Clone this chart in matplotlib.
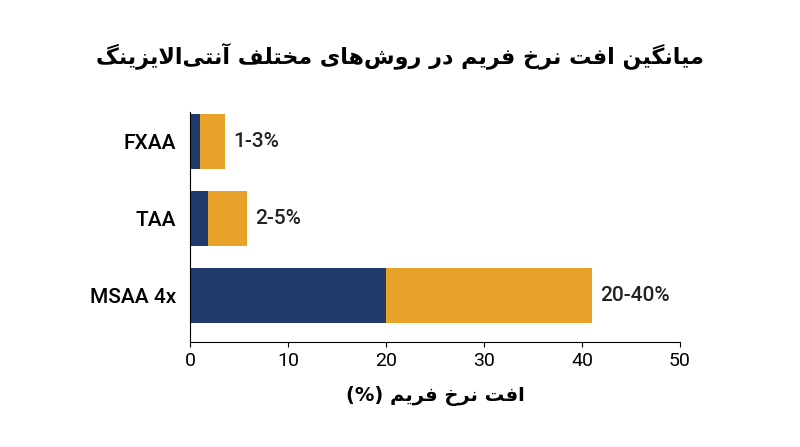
import matplotlib
matplotlib.use("Agg")
import matplotlib.pyplot as plt

# ---------------------------------------------------------------------------
# DATA
# ---------------------------------------------------------------------------
methods = ["MSAA 4x", "TAA", "FXAA"]
low_values = [20.0, 1.8, 1.0]      # lower bound part (navy)
extra_values = [21.0, 4.0, 2.6]    # range part (orange)
range_labels = ["20-40%", "2-5%", "1-3%"]

TITLE = "میانگین افت نرخ فریم در روش‌های مختلف آنتی‌الایزینگ"
XLABEL = "افت نرخ فریم (%)"

COLOR_LOW = "#1f3a6b"
COLOR_HIGH = "#e8a22a"

# ---------------------------------------------------------------------------
# Minimal Persian shaping (matplotlib has no bidi / joining support)
# forms: isolated, final, initial, medial
# ---------------------------------------------------------------------------
FORMS = {
    "ا": (0xFE8D, 0xFE8E, None, None),
    "آ": (0xFE81, 0xFE82, None, None),
    "ت": (0xFE95, 0xFE96, 0xFE97, 0xFE98),
    "خ": (0xFEA5, 0xFEA6, 0xFEA7, 0xFEA8),
    "د": (0xFEA9, 0xFEAA, None, None),
    "ر": (0xFEAD, 0xFEAE, None, None),
    "ز": (0xFEAF, 0xFEB0, None, None),
    "ش": (0xFEB5, 0xFEB6, 0xFEB7, 0xFEB8),
    "ف": (0xFED1, 0xFED2, 0xFED3, 0xFED4),
    "ل": (0xFEDD, 0xFEDE, 0xFEDF, 0xFEE0),
    "م": (0xFEE1, 0xFEE2, 0xFEE3, 0xFEE4),
    "ن": (0xFEE5, 0xFEE6, 0xFEE7, 0xFEE8),
    "ه": (0xFEE9, 0xFEEA, 0xFEEB, 0xFEEC),
    "و": (0xFEED, 0xFEEE, None, None),
    "ی": (0xFBFC, 0xFBFD, 0xFBFE, 0xFBFF),
    "گ": (0xFB92, 0xFB93, 0xFB94, 0xFB95),
}
MIRROR = {"(": ")", ")": "("}


def shape_fa(text):
    chars = list(text)
    out = []
    i = 0
    prev_joins = False
    while i < len(chars):
        c = chars[i]
        if c == "\u200c":
            # zero-width non-joiner: break the join, draw nothing
            prev_joins = False
            i += 1
            continue
        if c not in FORMS:
            out.append(c)
            prev_joins = False
            i += 1
            continue
        # lam-alef ligature
        if c == "ل" and i + 1 < len(chars) and chars[i + 1] == "ا":
            out.append(chr(0xFEFC if prev_joins else 0xFEFB))
            prev_joins = False
            i += 2
            continue
        nxt = chars[i + 1] if i + 1 < len(chars) else None
        can_next = FORMS[c][2] is not None and nxt in FORMS
        iso, fin, ini, med = FORMS[c]
        if prev_joins and can_next:
            form = med
        elif prev_joins:
            form = fin
        elif can_next:
            form = ini
        else:
            form = iso
        out.append(chr(form))
        prev_joins = can_next
        i += 1
    return "".join(MIRROR.get(ch, ch) for ch in reversed(out))


plt.rcParams["font.family"] = ["Roboto", "DejaVu Sans"]

fig = plt.figure(figsize=(8, 4.47), dpi=100)
ax = fig.add_axes([0.2375, 0.235, 0.6125, 0.515])

ypos = list(range(len(methods)))
ax.barh(ypos, low_values, height=0.71, color=COLOR_LOW)
ax.barh(ypos, extra_values, left=low_values, height=0.71, color=COLOR_HIGH)

for y, lo, ex, lab in zip(ypos, low_values, extra_values, range_labels):
    ax.text(lo + ex + 0.8, y, lab, va="center", ha="left", fontsize=15,
            fontweight="medium", color="#222222")

ax.set_yticks(ypos)
ax.set_yticklabels(methods, fontsize=15, fontweight="medium")
ax.set_ylim(-0.6, 2.38)
ax.set_xlim(0, 50)
ax.set_xticks([0, 10, 20, 30, 40, 50])
ax.tick_params(axis="x", labelsize=14)
ax.tick_params(axis="y", length=0, pad=10)
ax.set_xlabel(shape_fa(XLABEL), fontsize=14, fontweight="bold",
              family=["DejaVu Sans"], labelpad=12)

ax.spines["top"].set_visible(False)
ax.spines["right"].set_visible(False)

fig.text(0.5, 0.875, shape_fa(TITLE), ha="center", va="center",
         fontsize=16, fontweight="bold", family=["DejaVu Sans"])

fig.savefig("out.png", dpi=100, facecolor="white")
